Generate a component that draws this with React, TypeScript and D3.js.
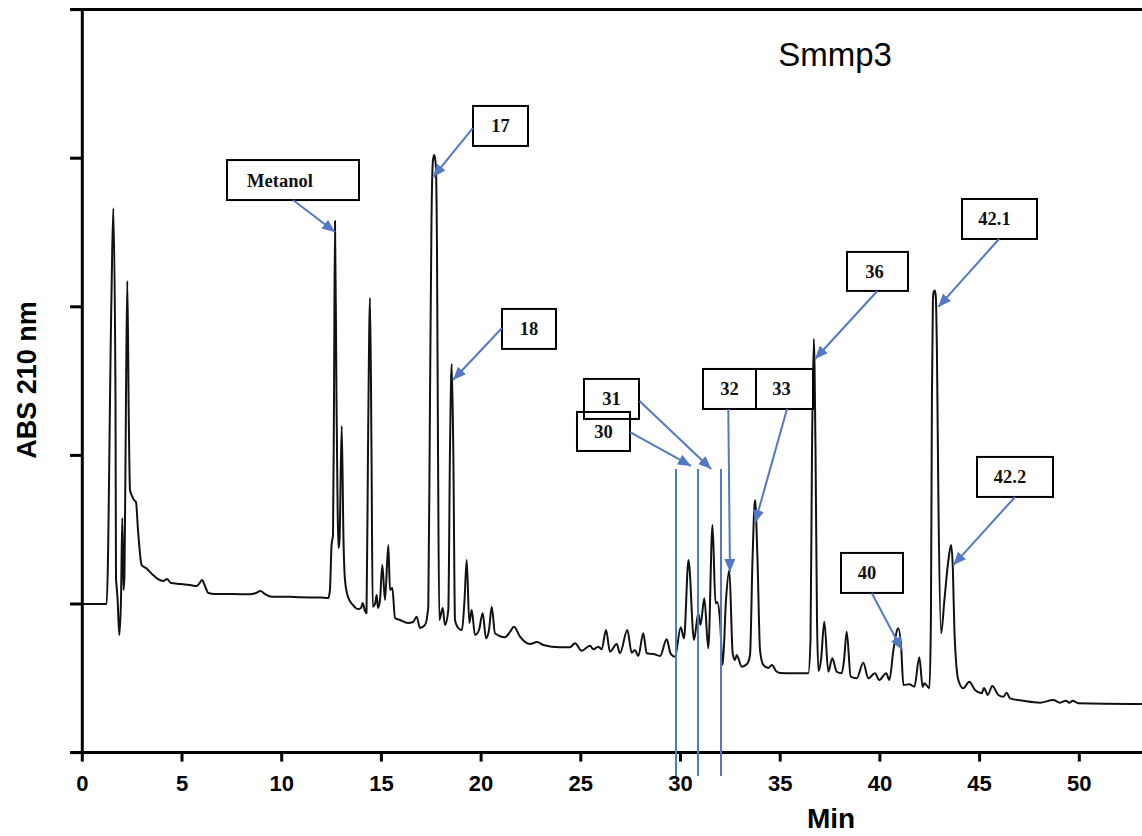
import React from "react";
import * as d3 from "d3";

// Chromatogram trace, [minutes, absorbance (arbitrary units, one unit per y tick)]
const segment0to10: [number, number][] = [
  [0, 0], [1.22, 0], [1.46, 2.05], [1.555, 2.663], [1.665, 1.373], [1.69, 0.175], [1.715, 0.128],
  [1.77, 0.03], [1.855, -0.209], [1.94, 0.027], [2.006, 0.579], [2.066, 0.094], [2.116, 0.195],
  [2.19, 1.373], [2.257, 2.174], [2.332, 1.238], [2.392, 0.767], [2.49, 0.727], [2.593, 0.7],
  [2.693, 0.686], [2.793, 0.498], [2.979, 0.262], [3.195, 0.242], [3.495, 0.202], [3.796, 0.168],
  [4.062, 0.155], [4.248, 0.168], [4.448, 0.141], [4.9, 0.135], [5.4, 0.128], [5.737, 0.121],
  [5.85, 0.135], [6.003, 0.162], [6.153, 0.121], [6.319, 0.074], [6.655, 0.067], [7.557, 0.067],
  [8.41, 0.065], [8.71, 0.074], [8.937, 0.087], [9.163, 0.067], [9.513, 0.049], [10.416, 0.049],
];
const segment10to20: [number, number][] = [
  [10.918, 0.045], [11.92, 0.044], [12.337, 0.04], [12.42, 0.094], [12.5, 0.397], [12.573, 0.464],
  [12.623, 1.373], [12.673, 2.577], [12.749, 1.373], [12.85, 0.377], [12.9, 0.431], [13.009, 1.198],
  [13.099, 0.431], [13.174, 0.162], [13.325, 0.047], [13.576, -0.007], [13.826, -0.034], [13.977, -0.027],
  [14.062, 0.007], [14.178, -0.047], [14.253, -0.061], [14.328, 1.036], [14.428, 2.059], [14.503, 1.036],
  [14.563, -0.018], [14.679, 0.0], [14.764, 0.061], [14.829, -0.027], [14.93, 0.027], [15.045, 0.262],
  [15.181, 0.027], [15.346, 0.397], [15.431, 0.094], [15.547, 0.108], [15.682, -0.094], [15.933, -0.108],
  [16.334, -0.128], [16.585, -0.121], [16.77, -0.085], [16.936, -0.162], [17.187, -0.141], [17.352, -0.02],
  [17.437, 1.373], [17.512, 2.584], [17.588, 2.988], [17.653, 3.022], [17.728, 2.954], [17.788, 2.382],
  [17.839, 1.036], [17.904, -0.108], [18.074, -0.027], [18.19, -0.141], [18.355, -0.04], [18.44, 1.036],
  [18.525, 1.615], [18.606, 1.036], [18.691, -0.108], [18.857, -0.162], [19.042, -0.175], [19.168, 0.027],
  [19.278, 0.296], [19.409, -0.128], [19.529, -0.04], [19.694, -0.209], [19.895, -0.175],
];
const segment20to30: [number, number][] = [
  [20.08, -0.063], [20.246, -0.231], [20.396, -0.175], [20.532, -0.018], [20.697, -0.197], [21.199, -0.224],
  [21.449, -0.188], [21.65, -0.153], [21.951, -0.22], [22.453, -0.269], [22.818, -0.256], [23.119, -0.276],
  [23.957, -0.291], [24.458, -0.291], [24.709, -0.264], [25.045, -0.314], [25.461, -0.281], [25.627, -0.305],
  [25.878, -0.287], [26.048, -0.305], [26.264, -0.175], [26.464, -0.321], [26.8, -0.269], [26.966, -0.332],
  [27.332, -0.175], [27.553, -0.328], [27.718, -0.31], [27.884, -0.35], [28.134, -0.197], [28.305, -0.332],
  [28.636, -0.336], [28.972, -0.35], [29.308, -0.238], [29.509, -0.336], [29.724, -0.355],
];
const segment30to40: [number, number][] = [
  [30.01, -0.157], [30.176, -0.231], [30.401, 0.296], [30.677, -0.242], [30.893, -0.063], [31.003, -0.141],
  [31.194, 0.038], [31.394, -0.298], [31.605, 0.532], [31.755, 0.005], [31.846, 0.013], [31.981, -0.108],
  [32.116, -0.41], [32.282, 0.027], [32.447, 0.229], [32.618, -0.332], [32.73, -0.377], [32.818, -0.343],
  [33.069, -0.422], [33.335, -0.404], [33.486, -0.343], [33.611, 0.296], [33.737, 0.7], [33.862, 0.296],
  [33.988, -0.31], [34.152, -0.41], [34.4, -0.431], [34.589, -0.41], [34.79, -0.451], [34.99, -0.464],
  [35.657, -0.466], [36.409, -0.466], [36.52, -0.242], [36.595, 1.036], [36.686, 1.783], [36.771, 1.036],
  [36.846, -0.108], [36.921, -0.451], [37.046, -0.377], [37.212, -0.119], [37.413, -0.456], [37.613, -0.365],
  [37.834, -0.456], [38.085, -0.466], [38.2, -0.38], [38.335, -0.186], [38.536, -0.489], [38.837, -0.5],
  [39.168, -0.395], [39.418, -0.5], [39.754, -0.466], [39.97, -0.511],
];
const segment40to53: [number, number][] = [
  [40.311, -0.466], [40.476, -0.511], [40.677, -0.31], [40.923, -0.164], [41.063, -0.287], [41.179, -0.545],
  [41.48, -0.54], [41.73, -0.557], [41.976, -0.359], [42.146, -0.557], [42.232, -0.534], [42.483, -0.567],
  [42.558, -0.108], [42.608, 1.373], [42.658, 2.046], [42.698, 2.1], [42.748, 2.11], [42.798, 2.079],
  [42.859, 1.709], [42.934, 0.7], [43.069, -0.197], [43.235, 0.027], [43.435, 0.296], [43.571, 0.397],
  [43.661, 0.229], [43.736, -0.175], [43.932, -0.511], [44.182, -0.567], [44.483, -0.523], [44.77, -0.579],
  [45.105, -0.601], [45.221, -0.565], [45.406, -0.612], [45.637, -0.552], [45.938, -0.612], [46.189, -0.624],
  [46.359, -0.597], [46.525, -0.635], [47.192, -0.651], [48.029, -0.664], [48.696, -0.646], [49.032, -0.664],
  [49.333, -0.651], [49.498, -0.664], [49.669, -0.651], [49.95, -0.668], [53.14, -0.673],
];

const xTicks = [0, 5, 10, 15, 20, 25, 30, 35, 40, 45, 50];
const yTicks = [-1, 0, 1, 2, 3, 4];

// Peak call-outs: label, box centre (min, abs), arrow start and tip (min, abs)
const calloutLabels = ["Metanol", "17", "18", "30", "31", "32", "33", "36", "40", "42.1", "42.2"];
const calloutBoxes: [number, number][] = [
  [10.567, 2.853], [20.973, 3.217], [22.402, 1.851], [26.138, 1.161], [26.54, 1.38], [32.457, 1.447],
  [35.216, 1.447], [39.88, 2.238], [39.604, 0.209], [45.998, 2.591], [46.775, 0.855],
];
const calloutFrom: [number, number][] = [
  [10.567, 2.719], [19.584, 3.203], [21.048, 1.857], [27.468, 1.157], [27.944, 1.366], [32.397, 1.312],
  [35.341, 1.312], [39.87, 2.106], [39.589, 0.074], [45.973, 2.456], [46.775, 0.72],
];
const calloutTips: [number, number][] = [
  [12.673, 2.503], [17.59, 2.873], [18.591, 1.507], [30.527, 0.929], [31.54, 0.908], [32.482, 0.215],
  [33.735, 0.545], [36.745, 1.649], [41.108, -0.31], [42.929, 1.999], [43.681, 0.262],
];
const markerTimes = [29.774, 30.878, 32.031];
const markerRange: [number, number] = [0.908, -1.157];

const boxSizes: [number, number][] = [
  [132, 40], [55, 40], [54, 40], [53, 39], [55, 40], [53, 40], [57, 40], [61, 39], [62, 40], [75, 40], [76, 40],
];
const textDx = [-13, 0, 0, 0, 0, 0, -3, -3, -5, -5, -5];

const W = 1142;
const H = 836;
const BLUE = "#5378c4";

export default function App() {
  const trace = [...segment0to10, ...segment10to20, ...segment20to30, ...segment30to40, ...segment40to53];
  const x = d3.scaleLinear().domain([0, 53.14]).range([82.3, 82.3 + 53.14 * 19.94]);
  const y = d3.scaleLinear().domain([-1, 4]).range([752.6, 9.6]);
  const line = d3
    .line<[number, number]>()
    .x((d) => x(d[0]))
    .y((d) => y(d[1]))
    .curve(d3.curveMonotoneX);

  const axisY = y(-1);
  const sans = "'Liberation Sans', Arial, sans-serif";
  const serif = "'Liberation Serif', 'Times New Roman', serif";

  return (
    <svg
      width={W}
      height={H}
      viewBox={`0 0 ${W} ${H}`}
      style={{ position: "absolute", left: 0, top: 0, background: "#fff" }}
    >
      <defs>
        <marker
          id="arrowHead"
          markerUnits="userSpaceOnUse"
          markerWidth={13}
          markerHeight={11}
          refX={13}
          refY={5.5}
          orient="auto"
        >
          <path d="M0,0 L13,5.5 L0,11 z" fill={BLUE} />
        </marker>
      </defs>
      <rect x={0} y={0} width={W} height={H} fill="#fff" />

      {/* frame */}
      <line x1={70} x2={W} y1={y(4)} y2={y(4)} stroke="#000" strokeWidth={3} />
      <line x1={x(0)} x2={x(0)} y1={y(4) - 1.5} y2={axisY + 1.5} stroke="#000" strokeWidth={3} />
      <line x1={70} x2={W} y1={axisY} y2={axisY} stroke="#000" strokeWidth={3} />

      {yTicks.map((t) => (
        <line key={"yt" + t} x1={70} x2={x(0)} y1={y(t)} y2={y(t)} stroke="#000" strokeWidth={3} />
      ))}
      {xTicks.map((t) => (
        <g key={"xt" + t}>
          <line x1={x(t)} x2={x(t)} y1={axisY} y2={axisY + 9} stroke="#000" strokeWidth={3} />
          <text
            x={x(t)}
            y={791}
            textAnchor="middle"
            fontFamily={sans}
            fontWeight="bold"
            fontSize={22}
            fill="#000"
          >
            {t}
          </text>
        </g>
      ))}

      <text x={831} y={828} textAnchor="middle" fontFamily={sans} fontWeight="bold" fontSize={28} fill="#000">
        Min
      </text>
      <text
        transform="translate(36,380) rotate(-90)"
        textAnchor="middle"
        fontFamily={sans}
        fontWeight="bold"
        fontSize={27}
        fill="#000"
      >
        ABS 210 nm
      </text>
      <text x={835} y={66} textAnchor="middle" fontFamily={sans} fontSize={33} fill="#000">
        Smmp3
      </text>

      {/* chromatogram */}
      <path d={line(trace) || ""} fill="none" stroke="#111" strokeWidth={2} strokeLinejoin="round" />

      {/* vertical marker lines */}
      {markerTimes.map((t) => (
        <line
          key={"m" + t}
          x1={x(t)}
          x2={x(t)}
          y1={y(markerRange[0])}
          y2={y(markerRange[1])}
          stroke={BLUE}
          strokeWidth={2}
        />
      ))}

      {/* call-outs */}
      {calloutLabels.map((lab, i) => {
        const [bw, bh] = boxSizes[i];
        const cx = x(calloutBoxes[i][0]);
        const cy = y(calloutBoxes[i][1]);
        const open = lab === "30" || lab === "31";
        return (
          <g key={"c" + lab}>
            <rect
              x={cx - bw / 2}
              y={cy - bh / 2}
              width={bw}
              height={bh}
              fill={open ? "none" : "#fff"}
              stroke="#000"
              strokeWidth={2}
            />
            <text
              x={cx + textDx[i]}
              y={cy + 6.5}
              textAnchor="middle"
              fontFamily={serif}
              fontWeight="bold"
              fontSize={18.5}
              fill="#111"
            >
              {lab}
            </text>
            <line
              x1={x(calloutFrom[i][0])}
              y1={y(calloutFrom[i][1])}
              x2={x(calloutTips[i][0])}
              y2={y(calloutTips[i][1])}
              stroke={BLUE}
              strokeWidth={2}
              markerEnd="url(#arrowHead)"
            />
          </g>
        );
      })}
    </svg>
  );
}
